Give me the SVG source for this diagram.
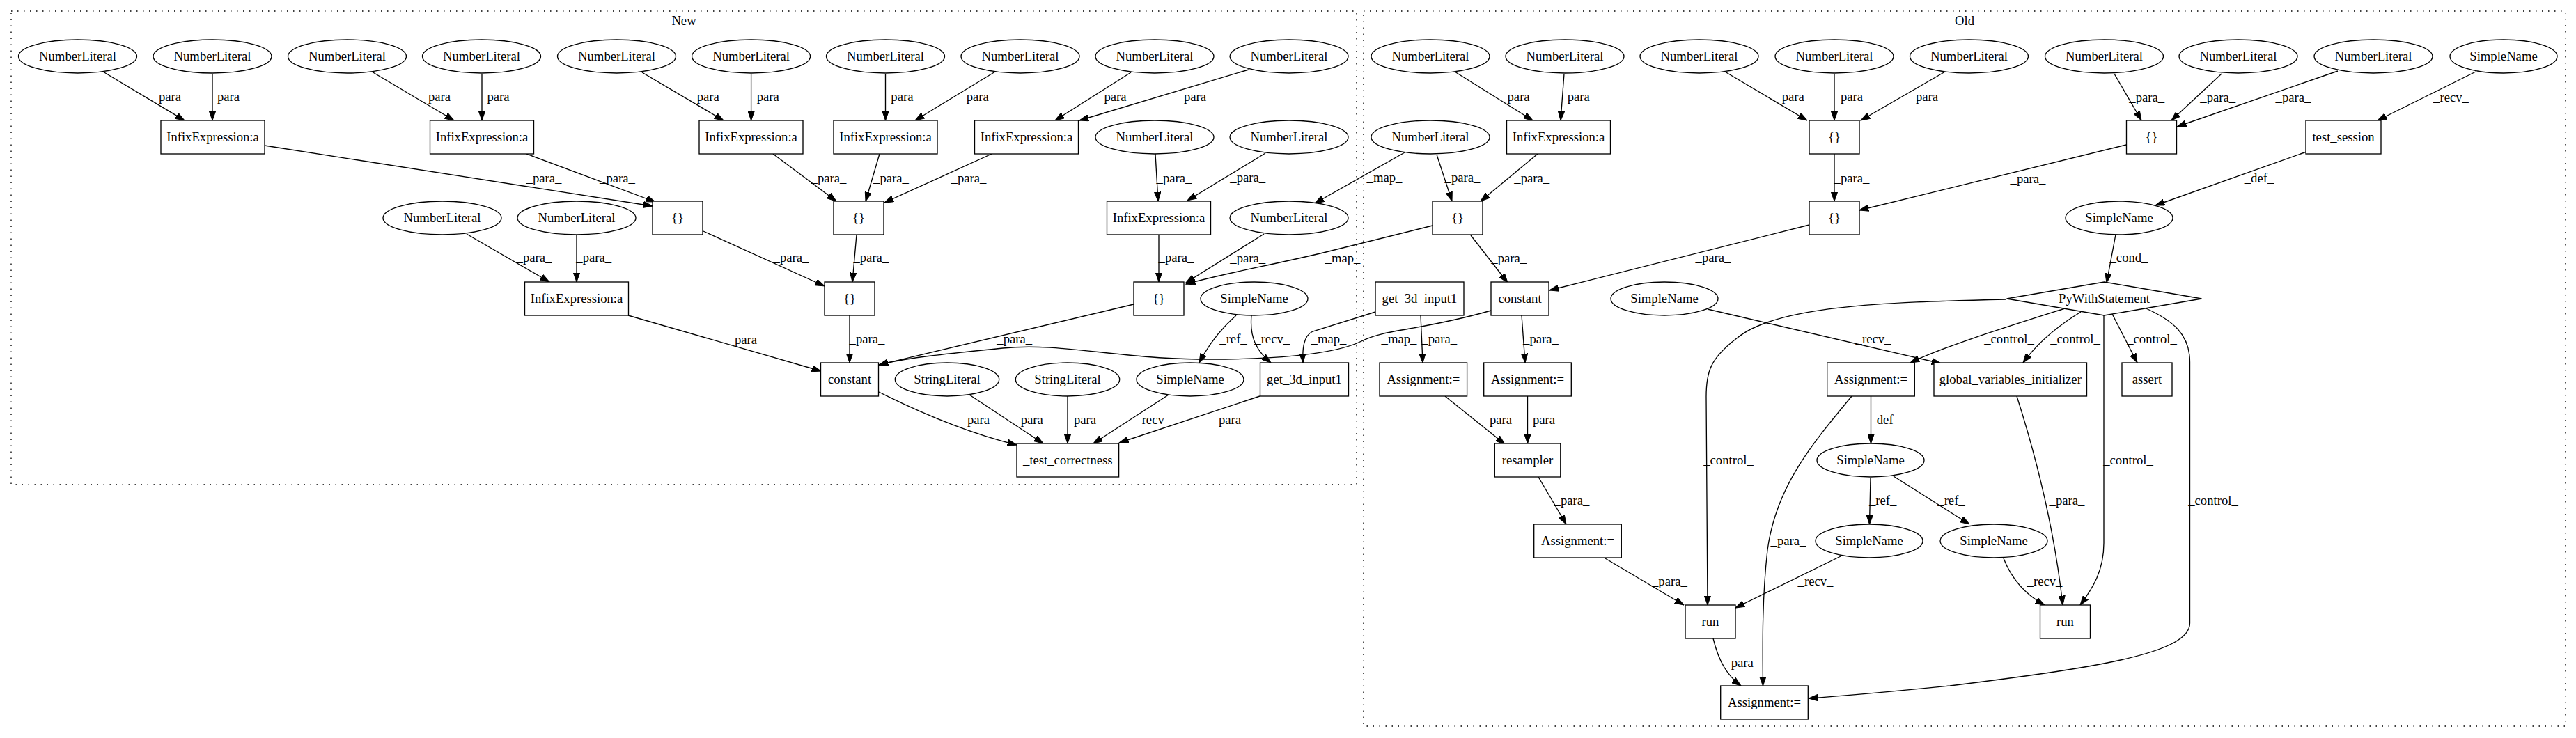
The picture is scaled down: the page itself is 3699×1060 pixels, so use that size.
<svg xmlns="http://www.w3.org/2000/svg" width="3699" height="1060" viewBox="0 0 3699 1060">
<style>
.bg{fill:#fff}
.cl{fill:none;stroke:#000;stroke-width:1.33;stroke-dasharray:1.5,7.5}
.s{fill:#fff;stroke:#000;stroke-width:1.33}
.e{fill:none;stroke:#000;stroke-width:1.33;marker-end:url(#ah)}
text{font-family:"Liberation Serif","Times New Roman",serif;font-size:18.67px;text-anchor:middle;fill:#000}
</style>
<defs>
<marker id="ah" viewBox="0 0 14 10" refX="13.3" refY="5" markerWidth="14" markerHeight="10" markerUnits="userSpaceOnUse" orient="auto">
<path d="M0,0.33 L13.3,5 L0,9.67 Z" fill="#000" stroke="#000" stroke-width="1"/>
</marker>
</defs>
<rect class="bg" x="0" y="0" width="3699" height="1060"/>
<g id="cluster_new">
<rect class="cl" x="16" y="16" width="1932" height="680"/>
<text x="982" y="36">New</text>
</g>
<g id="cluster_old">
<rect class="cl" x="1958" y="16" width="1726" height="1027"/>
<text x="2821" y="36">Old</text>
</g>
<g id="edges">
<path class="e" d="M148,103 L265,173"/>
<path class="e" d="M305,106 L305,173"/>
<path class="e" d="M534,103 L652,173"/>
<path class="e" d="M692,106 L692,173"/>
<path class="e" d="M380,209 L937,296"/>
<path class="e" d="M756,221 L941,290"/>
<path class="e" d="M670,336 L789,405"/>
<path class="e" d="M828,337 L828,405"/>
<path class="e" d="M922,104 L1039,173"/>
<path class="e" d="M1078.6,106 L1078.6,173"/>
<path class="e" d="M1271.5,106 L1271.5,173"/>
<path class="e" d="M1429,103 L1314,173"/>
<path class="e" d="M1624,104 L1515,173"/>
<path class="e" d="M1793,100 L1550,173"/>
<path class="e" d="M1110,221 L1201,289"/>
<path class="e" d="M1263,221 L1243,289"/>
<path class="e" d="M1424,221 L1270,291"/>
<path class="e" d="M1659,221 L1663,289"/>
<path class="e" d="M1817,220 L1705,288"/>
<path class="e" d="M1010,332 L1184,411"/>
<path class="e" d="M1230,337 L1224,405"/>
<path class="e" d="M1664,337 L1664,405"/>
<path class="e" d="M1815,336 L1703,406"/>
<path class="e" d="M2057,324 L1900,363 C1820,382 1760,392 1703,408"/>
<path class="e" d="M902,453 L1179,533"/>
<path class="e" d="M1220,453 L1220,521"/>
<path class="e" d="M1628,437 L1262,524"/>
<path class="e" d="M2141,446 C2040,475 1990,472 1955,490 C1915,510 1820,517 1720,516 C1600,514 1520,492 1440,500 C1360,508 1300,514 1262,524"/>
<path class="e" d="M1262,563 C1320,592 1390,622 1460,639"/>
<path class="e" d="M1392,567 L1498,637"/>
<path class="e" d="M1533,569 L1533,637"/>
<path class="e" d="M1678,567 L1570,637"/>
<path class="e" d="M1809,569 L1607,636"/>
<path class="e" d="M1775,453 Q1742,482 1722,521"/>
<path class="e" d="M1797,453 C1794,485 1805,505 1825,521"/>
<path class="e" d="M1975,448 L1885,476 C1872,482 1870,500 1871,521"/>
<path class="e" d="M2017,219 L1888,292"/>
<path class="e" d="M2089,103 L2201,173"/>
<path class="e" d="M2246,106 L2241,173"/>
<path class="e" d="M2063,222 L2085,289"/>
<path class="e" d="M2208,221 L2126,289"/>
<path class="e" d="M2477,103 L2595,173"/>
<path class="e" d="M2634,106 L2634,173"/>
<path class="e" d="M2793,103 L2672,173"/>
<path class="e" d="M3036,106 L3075,173"/>
<path class="e" d="M3190,106 L3118,173"/>
<path class="e" d="M3357,102 L3126,182"/>
<path class="e" d="M3555,103 L3414,173"/>
<path class="e" d="M2634,221 L2634,289"/>
<path class="e" d="M3053,208 L2670,302"/>
<path class="e" d="M3312,218 L3095,295"/>
<path class="e" d="M3038,337 L3025,406"/>
<path class="e" d="M2112,338 L2165,406"/>
<path class="e" d="M2598,323 L2225,417"/>
<path class="e" d="M2040,453 L2043,521"/>
<path class="e" d="M2185,453 L2190,521"/>
<path class="e" d="M2075,569 L2161,638"/>
<path class="e" d="M2193.5,569 L2193.5,637"/>
<path class="e" d="M2209,685 L2249,753"/>
<path class="e" d="M2305,802 L2418,869"/>
<path class="e" d="M2643,799 L2492,873"/>
<path class="e" d="M2880,430 C2700,434 2550,440 2495,485 C2455,515 2450,535 2450,570 L2452,869"/>
<path class="e" d="M2452,444 L2787,522"/>
<path class="e" d="M2965,443 C2880,470 2790,498 2743,521"/>
<path class="e" d="M2988,448 Q2935,480 2905,521"/>
<path class="e" d="M3033,451 L3069,521"/>
<path class="e" d="M3021,453 L3021,780 C3021,820 3005,845 2987,869"/>
<path class="e" d="M3079.5,442 C3120,460 3144.5,480 3144.5,520 L3144.5,895 C3144.5,940 3000,960 2800,985 C2700,995 2640,1000 2597,1003"/>
<path class="e" d="M2686.5,569 L2686.5,637"/>
<path class="e" d="M2659,569 C2600,640 2550,700 2538,790 C2530,860 2531,930 2531.5,985"/>
<path class="e" d="M2686,686 L2684.5,753"/>
<path class="e" d="M2719,684 L2828,753"/>
<path class="e" d="M2896,569 C2925,660 2950,760 2962,869"/>
<path class="e" d="M2877,802 C2890,835 2910,855 2936,869"/>
<path class="e" d="M2460,917 C2468,950 2480,970 2500,985"/>
<g id="edge_labels">
<text x="244" y="145">_para_</text>
<text x="328" y="145">_para_</text>
<text x="631" y="145">_para_</text>
<text x="715.5" y="145">_para_</text>
<text x="781" y="262">_para_</text>
<text x="886.5" y="262">_para_</text>
<text x="767" y="376">_para_</text>
<text x="852.7" y="376">_para_</text>
<text x="1016.7" y="145">_para_</text>
<text x="1102.8" y="145">_para_</text>
<text x="1295.4" y="145">_para_</text>
<text x="1403.8" y="145">_para_</text>
<text x="1601.5" y="145">_para_</text>
<text x="1716" y="145">_para_</text>
<text x="1190" y="262">_para_</text>
<text x="1279.5" y="262">_para_</text>
<text x="1391" y="262">_para_</text>
<text x="1686" y="262">_para_</text>
<text x="1791.7" y="261">_para_</text>
<text x="1136" y="376">_para_</text>
<text x="1250.8" y="376">_para_</text>
<text x="1689" y="376">_para_</text>
<text x="1791.7" y="377">_para_</text>
<text x="1928" y="377">_map_</text>
<text x="1071" y="494">_para_</text>
<text x="1245" y="493">_para_</text>
<text x="1456.7" y="493">_para_</text>
<text x="2009" y="493">_map_</text>
<text x="1405" y="609">_para_</text>
<text x="1481.7" y="609">_para_</text>
<text x="1558" y="609">_para_</text>
<text x="1655.7" y="609">_recv_</text>
<text x="1766" y="609">_para_</text>
<text x="1771" y="493">_ref_</text>
<text x="1826.7" y="493">_recv_</text>
<text x="1908" y="493">_map_</text>
<text x="1988" y="261">_map_</text>
<text x="2180.6" y="145">_para_</text>
<text x="2266.7" y="145">_para_</text>
<text x="2100" y="261">_para_</text>
<text x="2199.7" y="262">_para_</text>
<text x="2574.7" y="145">_para_</text>
<text x="2659" y="145">_para_</text>
<text x="2767" y="145">_para_</text>
<text x="3082.7" y="146">_para_</text>
<text x="3184.7" y="146">_para_</text>
<text x="3293" y="146">_para_</text>
<text x="3519.5" y="146">_recv_</text>
<text x="2659" y="262">_para_</text>
<text x="2912" y="263">_para_</text>
<text x="3244" y="262">_def_</text>
<text x="3057" y="376">_cond_</text>
<text x="2166.7" y="377">_para_</text>
<text x="2460" y="376">_para_</text>
<text x="2066.7" y="493">_para_</text>
<text x="2212.5" y="493">_para_</text>
<text x="2155" y="609">_para_</text>
<text x="2217" y="609">_para_</text>
<text x="2257" y="725">_para_</text>
<text x="2397.4" y="841">_para_</text>
<text x="2607" y="841">_recv_</text>
<text x="2482" y="667">_control_</text>
<text x="2690" y="493">_recv_</text>
<text x="2885" y="493">_control_</text>
<text x="2980" y="493">_control_</text>
<text x="3090" y="493">_control_</text>
<text x="3056" y="667">_control_</text>
<text x="3178" y="725">_control_</text>
<text x="2706.7" y="609">_def_</text>
<text x="2568" y="783">_para_</text>
<text x="2703.6" y="725">_ref_</text>
<text x="2802" y="725">_ref_</text>
<text x="2968" y="725">_para_</text>
<text x="2936" y="841">_recv_</text>
<text x="2501.7" y="958">_para_</text>
</g>
</g>
<g id="n_NL1"><ellipse class="s" cx="111.5" cy="81" rx="85" ry="24"/><text x="111.5" y="87">NumberLiteral</text></g>
<g id="n_NL2"><ellipse class="s" cx="305" cy="81" rx="85" ry="24"/><text x="305" y="87">NumberLiteral</text></g>
<g id="n_NL3"><ellipse class="s" cx="498.5" cy="81" rx="85" ry="24"/><text x="498.5" y="87">NumberLiteral</text></g>
<g id="n_NL4"><ellipse class="s" cx="691.5" cy="81" rx="85" ry="24"/><text x="691.5" y="87">NumberLiteral</text></g>
<g id="n_NL5"><ellipse class="s" cx="885.5" cy="81" rx="85" ry="24"/><text x="885.5" y="87">NumberLiteral</text></g>
<g id="n_NL6"><ellipse class="s" cx="1078.6" cy="81" rx="85" ry="24"/><text x="1078.6" y="87">NumberLiteral</text></g>
<g id="n_NL7"><ellipse class="s" cx="1271.5" cy="81" rx="85" ry="24"/><text x="1271.5" y="87">NumberLiteral</text></g>
<g id="n_NL8"><ellipse class="s" cx="1465" cy="81" rx="85" ry="24"/><text x="1465" y="87">NumberLiteral</text></g>
<g id="n_NL9"><ellipse class="s" cx="1658" cy="81" rx="85" ry="24"/><text x="1658" y="87">NumberLiteral</text></g>
<g id="n_NL10"><ellipse class="s" cx="1851" cy="81" rx="85" ry="24"/><text x="1851" y="87">NumberLiteral</text></g>
<g id="n_IE1"><rect class="s" x="231" y="173" width="149" height="48"/><text x="305.5" y="203">InfixExpression:a</text></g>
<g id="n_IE2"><rect class="s" x="617.5" y="173" width="149" height="48"/><text x="692" y="203">InfixExpression:a</text></g>
<g id="n_IE3"><rect class="s" x="1004" y="173" width="149" height="48"/><text x="1078.6" y="203">InfixExpression:a</text></g>
<g id="n_IE4"><rect class="s" x="1197" y="173" width="149" height="48"/><text x="1271.5" y="203">InfixExpression:a</text></g>
<g id="n_IE5"><rect class="s" x="1399.5" y="173" width="149" height="48"/><text x="1474" y="203">InfixExpression:a</text></g>
<g id="n_NL11"><ellipse class="s" cx="1658" cy="197" rx="85" ry="24"/><text x="1658" y="203">NumberLiteral</text></g>
<g id="n_NL12"><ellipse class="s" cx="1851" cy="197" rx="85" ry="24"/><text x="1851" y="203">NumberLiteral</text></g>
<g id="n_NL13"><ellipse class="s" cx="635" cy="313" rx="85" ry="24"/><text x="635" y="319">NumberLiteral</text></g>
<g id="n_NL14"><ellipse class="s" cx="828" cy="313" rx="85" ry="24"/><text x="828" y="319">NumberLiteral</text></g>
<g id="n_B1"><rect class="s" x="937" y="289" width="72" height="48"/><text x="973" y="319">{}</text></g>
<g id="n_B2"><rect class="s" x="1197" y="289" width="72" height="48"/><text x="1233" y="319">{}</text></g>
<g id="n_IE6"><rect class="s" x="1589.5" y="289" width="149" height="48"/><text x="1664" y="319">InfixExpression:a</text></g>
<g id="n_NL15"><ellipse class="s" cx="1851" cy="313" rx="85" ry="24"/><text x="1851" y="319">NumberLiteral</text></g>
<g id="n_IE7"><rect class="s" x="753.5" y="405" width="149" height="48"/><text x="828" y="435">InfixExpression:a</text></g>
<g id="n_B3"><rect class="s" x="1184" y="405" width="72" height="48"/><text x="1220" y="435">{}</text></g>
<g id="n_B4"><rect class="s" x="1628" y="405" width="72" height="48"/><text x="1664" y="435">{}</text></g>
<g id="n_SN1"><ellipse class="s" cx="1801" cy="429" rx="77" ry="24"/><text x="1801" y="435">SimpleName</text></g>
<g id="n_constant"><rect class="s" x="1178.5" y="521" width="83" height="48"/><text x="1220" y="551">constant</text></g>
<g id="n_SL1"><ellipse class="s" cx="1360" cy="545" rx="74.7" ry="24"/><text x="1360" y="551">StringLiteral</text></g>
<g id="n_SL2"><ellipse class="s" cx="1533" cy="545" rx="74.7" ry="24"/><text x="1533" y="551">StringLiteral</text></g>
<g id="n_SN2"><ellipse class="s" cx="1709" cy="545" rx="77" ry="24"/><text x="1709" y="551">SimpleName</text></g>
<g id="n_G1"><rect class="s" x="1809.5" y="521" width="127" height="48"/><text x="1873" y="551">get_3d_input1</text></g>
<g id="n_TC"><rect class="s" x="1460" y="637" width="146.6" height="48"/><text x="1533.3" y="667">_test_correctness</text></g>
<g id="n_ONL1"><ellipse class="s" cx="2054" cy="81" rx="85" ry="24"/><text x="2054" y="87">NumberLiteral</text></g>
<g id="n_ONL2"><ellipse class="s" cx="2247" cy="81" rx="85" ry="24"/><text x="2247" y="87">NumberLiteral</text></g>
<g id="n_ONL3"><ellipse class="s" cx="2440" cy="81" rx="85" ry="24"/><text x="2440" y="87">NumberLiteral</text></g>
<g id="n_ONL4"><ellipse class="s" cx="2634" cy="81" rx="85" ry="24"/><text x="2634" y="87">NumberLiteral</text></g>
<g id="n_ONL5"><ellipse class="s" cx="2827.5" cy="81" rx="85" ry="24"/><text x="2827.5" y="87">NumberLiteral</text></g>
<g id="n_ONL6"><ellipse class="s" cx="3021.5" cy="81" rx="85" ry="24"/><text x="3021.5" y="87">NumberLiteral</text></g>
<g id="n_ONL7"><ellipse class="s" cx="3214" cy="81" rx="85" ry="24"/><text x="3214" y="87">NumberLiteral</text></g>
<g id="n_ONL8"><ellipse class="s" cx="3408" cy="81" rx="85" ry="24"/><text x="3408" y="87">NumberLiteral</text></g>
<g id="n_OSN1"><ellipse class="s" cx="3595" cy="81" rx="77" ry="24"/><text x="3595" y="87">SimpleName</text></g>
<g id="n_ONL9"><ellipse class="s" cx="2054" cy="197" rx="85" ry="24"/><text x="2054" y="203">NumberLiteral</text></g>
<g id="n_OIE"><rect class="s" x="2163.5" y="173" width="149" height="48"/><text x="2238" y="203">InfixExpression:a</text></g>
<g id="n_OB1"><rect class="s" x="2598" y="173" width="72" height="48"/><text x="2634" y="203">{}</text></g>
<g id="n_OB2"><rect class="s" x="3053.5" y="173" width="72" height="48"/><text x="3089.5" y="203">{}</text></g>
<g id="n_TS"><rect class="s" x="3311" y="173" width="108" height="48"/><text x="3365" y="203">test_session</text></g>
<g id="n_OB3"><rect class="s" x="2057" y="289" width="72" height="48"/><text x="2093" y="319">{}</text></g>
<g id="n_OB4"><rect class="s" x="2598" y="289" width="72" height="48"/><text x="2634" y="319">{}</text></g>
<g id="n_OSN2"><ellipse class="s" cx="3043" cy="313" rx="77" ry="24"/><text x="3043" y="319">SimpleName</text></g>
<g id="n_OG"><rect class="s" x="1975" y="405" width="127" height="48"/><text x="2038.5" y="435">get_3d_input1</text></g>
<g id="n_OC"><rect class="s" x="2141" y="405" width="83" height="48"/><text x="2182.5" y="435">constant</text></g>
<g id="n_OSN3"><ellipse class="s" cx="2390" cy="429" rx="77" ry="24"/><text x="2390" y="435">SimpleName</text></g>
<g id="n_PW"><polygon class="s" points="3021.5,405 3161.5,429 3021.5,453 2881.5,429"/><text x="3021.5" y="435">PyWithStatement</text></g>
<g id="n_OA1"><rect class="s" x="1981" y="521" width="125.6" height="48"/><text x="2043.8" y="551">Assignment:=</text></g>
<g id="n_OA2"><rect class="s" x="2130.7" y="521" width="125.6" height="48"/><text x="2193.5" y="551">Assignment:=</text></g>
<g id="n_OA3"><rect class="s" x="2623.7" y="521" width="125.6" height="48"/><text x="2686.5" y="551">Assignment:=</text></g>
<g id="n_GVI"><rect class="s" x="2777" y="521" width="219.5" height="48"/><text x="2886.8" y="551">global_variables_initializer</text></g>
<g id="n_AS"><rect class="s" x="3047" y="521" width="72" height="48"/><text x="3083" y="551">assert</text></g>
<g id="n_RS"><rect class="s" x="2146.3" y="637" width="94.5" height="48"/><text x="2193.5" y="667">resampler</text></g>
<g id="n_OSN4"><ellipse class="s" cx="2686" cy="661" rx="77" ry="24"/><text x="2686" y="667">SimpleName</text></g>
<g id="n_OA4"><rect class="s" x="2202.7" y="753" width="125.6" height="48"/><text x="2265.5" y="783">Assignment:=</text></g>
<g id="n_OSN5"><ellipse class="s" cx="2684" cy="777" rx="77" ry="24"/><text x="2684" y="783">SimpleName</text></g>
<g id="n_OSN6"><ellipse class="s" cx="2863" cy="777" rx="77" ry="24"/><text x="2863" y="783">SimpleName</text></g>
<g id="n_RUN1"><rect class="s" x="2420" y="869" width="72" height="48"/><text x="2456" y="899">run</text></g>
<g id="n_RUN2"><rect class="s" x="2929.5" y="869" width="72" height="48"/><text x="2965.5" y="899">run</text></g>
<g id="n_OA5"><rect class="s" x="2470.7" y="985" width="125.6" height="48"/><text x="2533.5" y="1015">Assignment:=</text></g>
</svg>
